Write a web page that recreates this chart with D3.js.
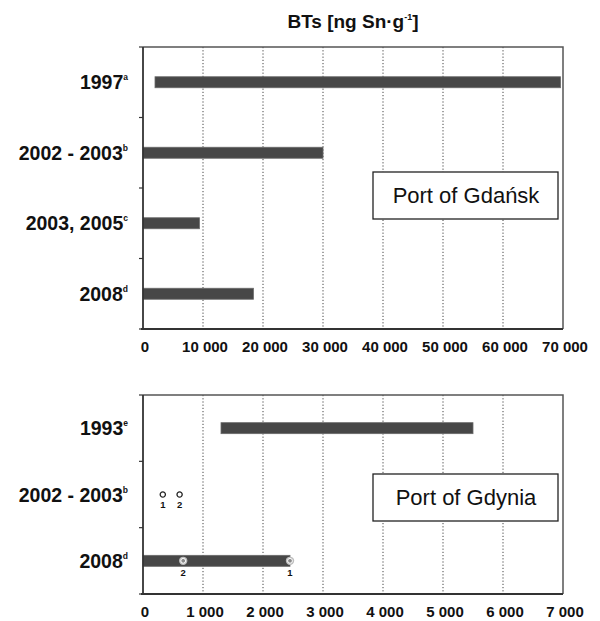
<!DOCTYPE html>
<html lang="en">
<head>
<meta charset="utf-8">
<title>BTs in port sediments</title>
<script src="https://cdn.jsdelivr.net/npm/d3@7"></script>
<style>
  body { margin: 0; background: #fff; }
  text { font-family: "Liberation Sans", Arial, sans-serif; }
</style>
</head>
<body>
<script>
// Port of Gdansk: ranges of BTs
var gdanskYears = ["1997", "2002 - 2003", "2003, 2005", "2008"];
var gdanskSup = ["a", "b", "c", "d"];
var gdanskMin = [2000, 0, 0, 0];
var gdanskMax = [69600, 30000, 9400, 18400];
var gdanskTicks = [0, 10000, 20000, 30000, 40000, 50000, 60000, 70000];

// Port of Gdynia
var gdyniaYears = ["1993", "2002 - 2003", "2008"];
var gdyniaSup = ["e", "b", "d"];
var gdyniaMin = [1300, null, 0];
var gdyniaMax = [5500, null, 2450];
var gdyniaTicks = [0, 1000, 2000, 3000, 4000, 5000, 6000, 7000];
// single site points: [yearIndex, value, site label]
var gdyniaPoints = [[1, 330, "1"], [1, 610, "2"], [2, 2450, "1"], [2, 670, "2"]];

var w = 600, h = 621;
var left = 143, right = 563;

var svg = d3.select("body").append("svg")
  .attr("width", w)
  .attr("height", h);

svg.append("rect").attr("width", w).attr("height", h).attr("fill", "white");

// title
var title = svg.append("text")
  .attr("x", 353).attr("y", 28)
  .attr("text-anchor", "middle")
  .attr("font-size", "19px")
  .attr("font-weight", "bold")
  .attr("fill", "#111");
title.append("tspan").text("BTs [ng Sn\u00b7g");
title.append("tspan").attr("font-size", "9px").attr("dy", -8).text("-1");
title.append("tspan").attr("dy", 8).text("]");

var fmt = function(d) { return d3.format(",")(d).replace(/,/g, " "); };

function panel(top, bottom, years, sups, mins, maxs, ticks, boxLabel, boxY) {
  var x = d3.scaleLinear().domain([0, ticks[ticks.length - 1]]).range([left, right]);
  var y = d3.scaleBand().domain(years).range([top, bottom]);
  var g = svg.append("g");

  // dotted grid
  g.selectAll("line.grid")
    .data(ticks.slice(1, -1))
    .enter()
    .append("line")
    .attr("class", "grid")
    .attr("x1", function(d) { return x(d); })
    .attr("x2", function(d) { return x(d); })
    .attr("y1", top).attr("y2", bottom)
    .attr("stroke", "#444")
    .attr("stroke-width", 1)
    .attr("stroke-dasharray", "1.2,2");

  // frame top and right
  g.append("path")
    .attr("d", "M" + left + "," + top + "H" + right + "V" + bottom)
    .attr("fill", "none")
    .attr("stroke", "#555")
    .attr("stroke-width", 1.5);

  // y ticks at band edges
  var edges = years.map(function(d) { return y(d); }).concat([bottom]);
  g.selectAll("line.ytick")
    .data(edges)
    .enter()
    .append("line")
    .attr("x1", left - 4).attr("x2", left)
    .attr("y1", function(d) { return d; })
    .attr("y2", function(d) { return d; })
    .attr("stroke", "#333")
    .attr("stroke-width", 1.2);

  // bars
  var rows = years.map(function(d, i) { return i; }).filter(function(i) { return maxs[i] != null; });
  g.selectAll("rect.bar")
    .data(rows)
    .enter()
    .append("rect")
    .attr("class", "bar")
    .attr("x", function(i) { return x(mins[i]); })
    .attr("y", function(i) { return y(years[i]) + y.bandwidth() / 2 - 5.5; })
    .attr("width", function(i) { return x(maxs[i]) - x(mins[i]); })
    .attr("height", 11)
    .attr("fill", "#474747")
    .attr("stroke", "#6a6a6a")
    .attr("stroke-width", 0.8);

  // axes lines
  g.append("line")
    .attr("x1", left).attr("x2", left).attr("y1", top).attr("y2", bottom)
    .attr("stroke", "#333").attr("stroke-width", 1.8);
  g.append("line")
    .attr("x1", left - 2).attr("x2", right).attr("y1", bottom).attr("y2", bottom)
    .attr("stroke", "#333").attr("stroke-width", 1.8);

  // category labels
  var lab = g.selectAll("text.cat")
    .data(years)
    .enter()
    .append("text")
    .attr("class", "cat")
    .attr("x", left - 15)
    .attr("y", function(d) { return y(d) + y.bandwidth() / 2 + 7; })
    .attr("text-anchor", "end")
    .attr("font-size", "19.5px")
    .attr("font-weight", "bold")
    .attr("fill", "#111");
  lab.append("tspan").text(function(d) { return d; });
  lab.append("tspan")
    .attr("font-size", "8.5px")
    .attr("dy", -9)
    .text(function(d, i) { return sups[i]; });

  // x tick labels
  g.selectAll("text.xt")
    .data(ticks)
    .enter()
    .append("text")
    .attr("class", "xt")
    .attr("x", function(d) { return x(d) + 2; })
    .attr("y", bottom + 23)
    .attr("text-anchor", "middle")
    .attr("font-size", "15px")
    .attr("font-weight", "bold")
    .attr("fill", "#111")
    .text(fmt);

  // label box
  g.append("rect")
    .attr("x", 373).attr("y", boxY)
    .attr("width", 185).attr("height", 47)
    .attr("fill", "white")
    .attr("stroke", "#222")
    .attr("stroke-width", 1.3);
  g.append("text")
    .attr("x", 466).attr("y", boxY + 31)
    .attr("text-anchor", "middle")
    .attr("font-size", "22px")
    .attr("fill", "#111")
    .text(boxLabel);

  return { x: x, y: y, g: g };
}

panel(47, 329, gdanskYears, gdanskSup, gdanskMin, gdanskMax, gdanskTicks, "Port of Gda\u0144sk", 172);
var p2 = panel(395, 594, gdyniaYears, gdyniaSup, gdyniaMin, gdyniaMax, gdyniaTicks, "Port of Gdynia", 474);

// Gdynia individual sites
var pts = p2.g.selectAll("g.pt")
  .data(gdyniaPoints)
  .enter()
  .append("g")
  .attr("class", "pt")
  .attr("transform", function(d) {
    return "translate(" + p2.x(d[1]) + "," + (p2.y(gdyniaYears[d[0]]) + p2.y.bandwidth() / 2) + ")";
  });
pts.append("circle")
  .attr("r", function(d) { return d[0] == 2 ? 4.2 : 2.6; })
  .attr("fill", function(d) { return d[0] == 2 ? "#bdbdbd" : "white"; })
  .attr("stroke", function(d) { return d[0] == 2 ? "none" : "#222"; })
  .attr("stroke-width", 1.3);
pts.filter(function(d) { return d[0] == 2; })
  .append("circle")
  .attr("r", 2.4)
  .attr("fill", "#8a8a8a")
  .attr("stroke", "white")
  .attr("stroke-width", 1);
pts.append("text")
  .attr("y", function(d) { return d[0] == 2 ? 15 : 13; })
  .attr("text-anchor", "middle")
  .attr("font-size", "9.5px")
  .attr("font-weight", "bold")
  .attr("fill", "#111")
  .text(function(d) { return d[2]; });
</script>
</body>
</html>
